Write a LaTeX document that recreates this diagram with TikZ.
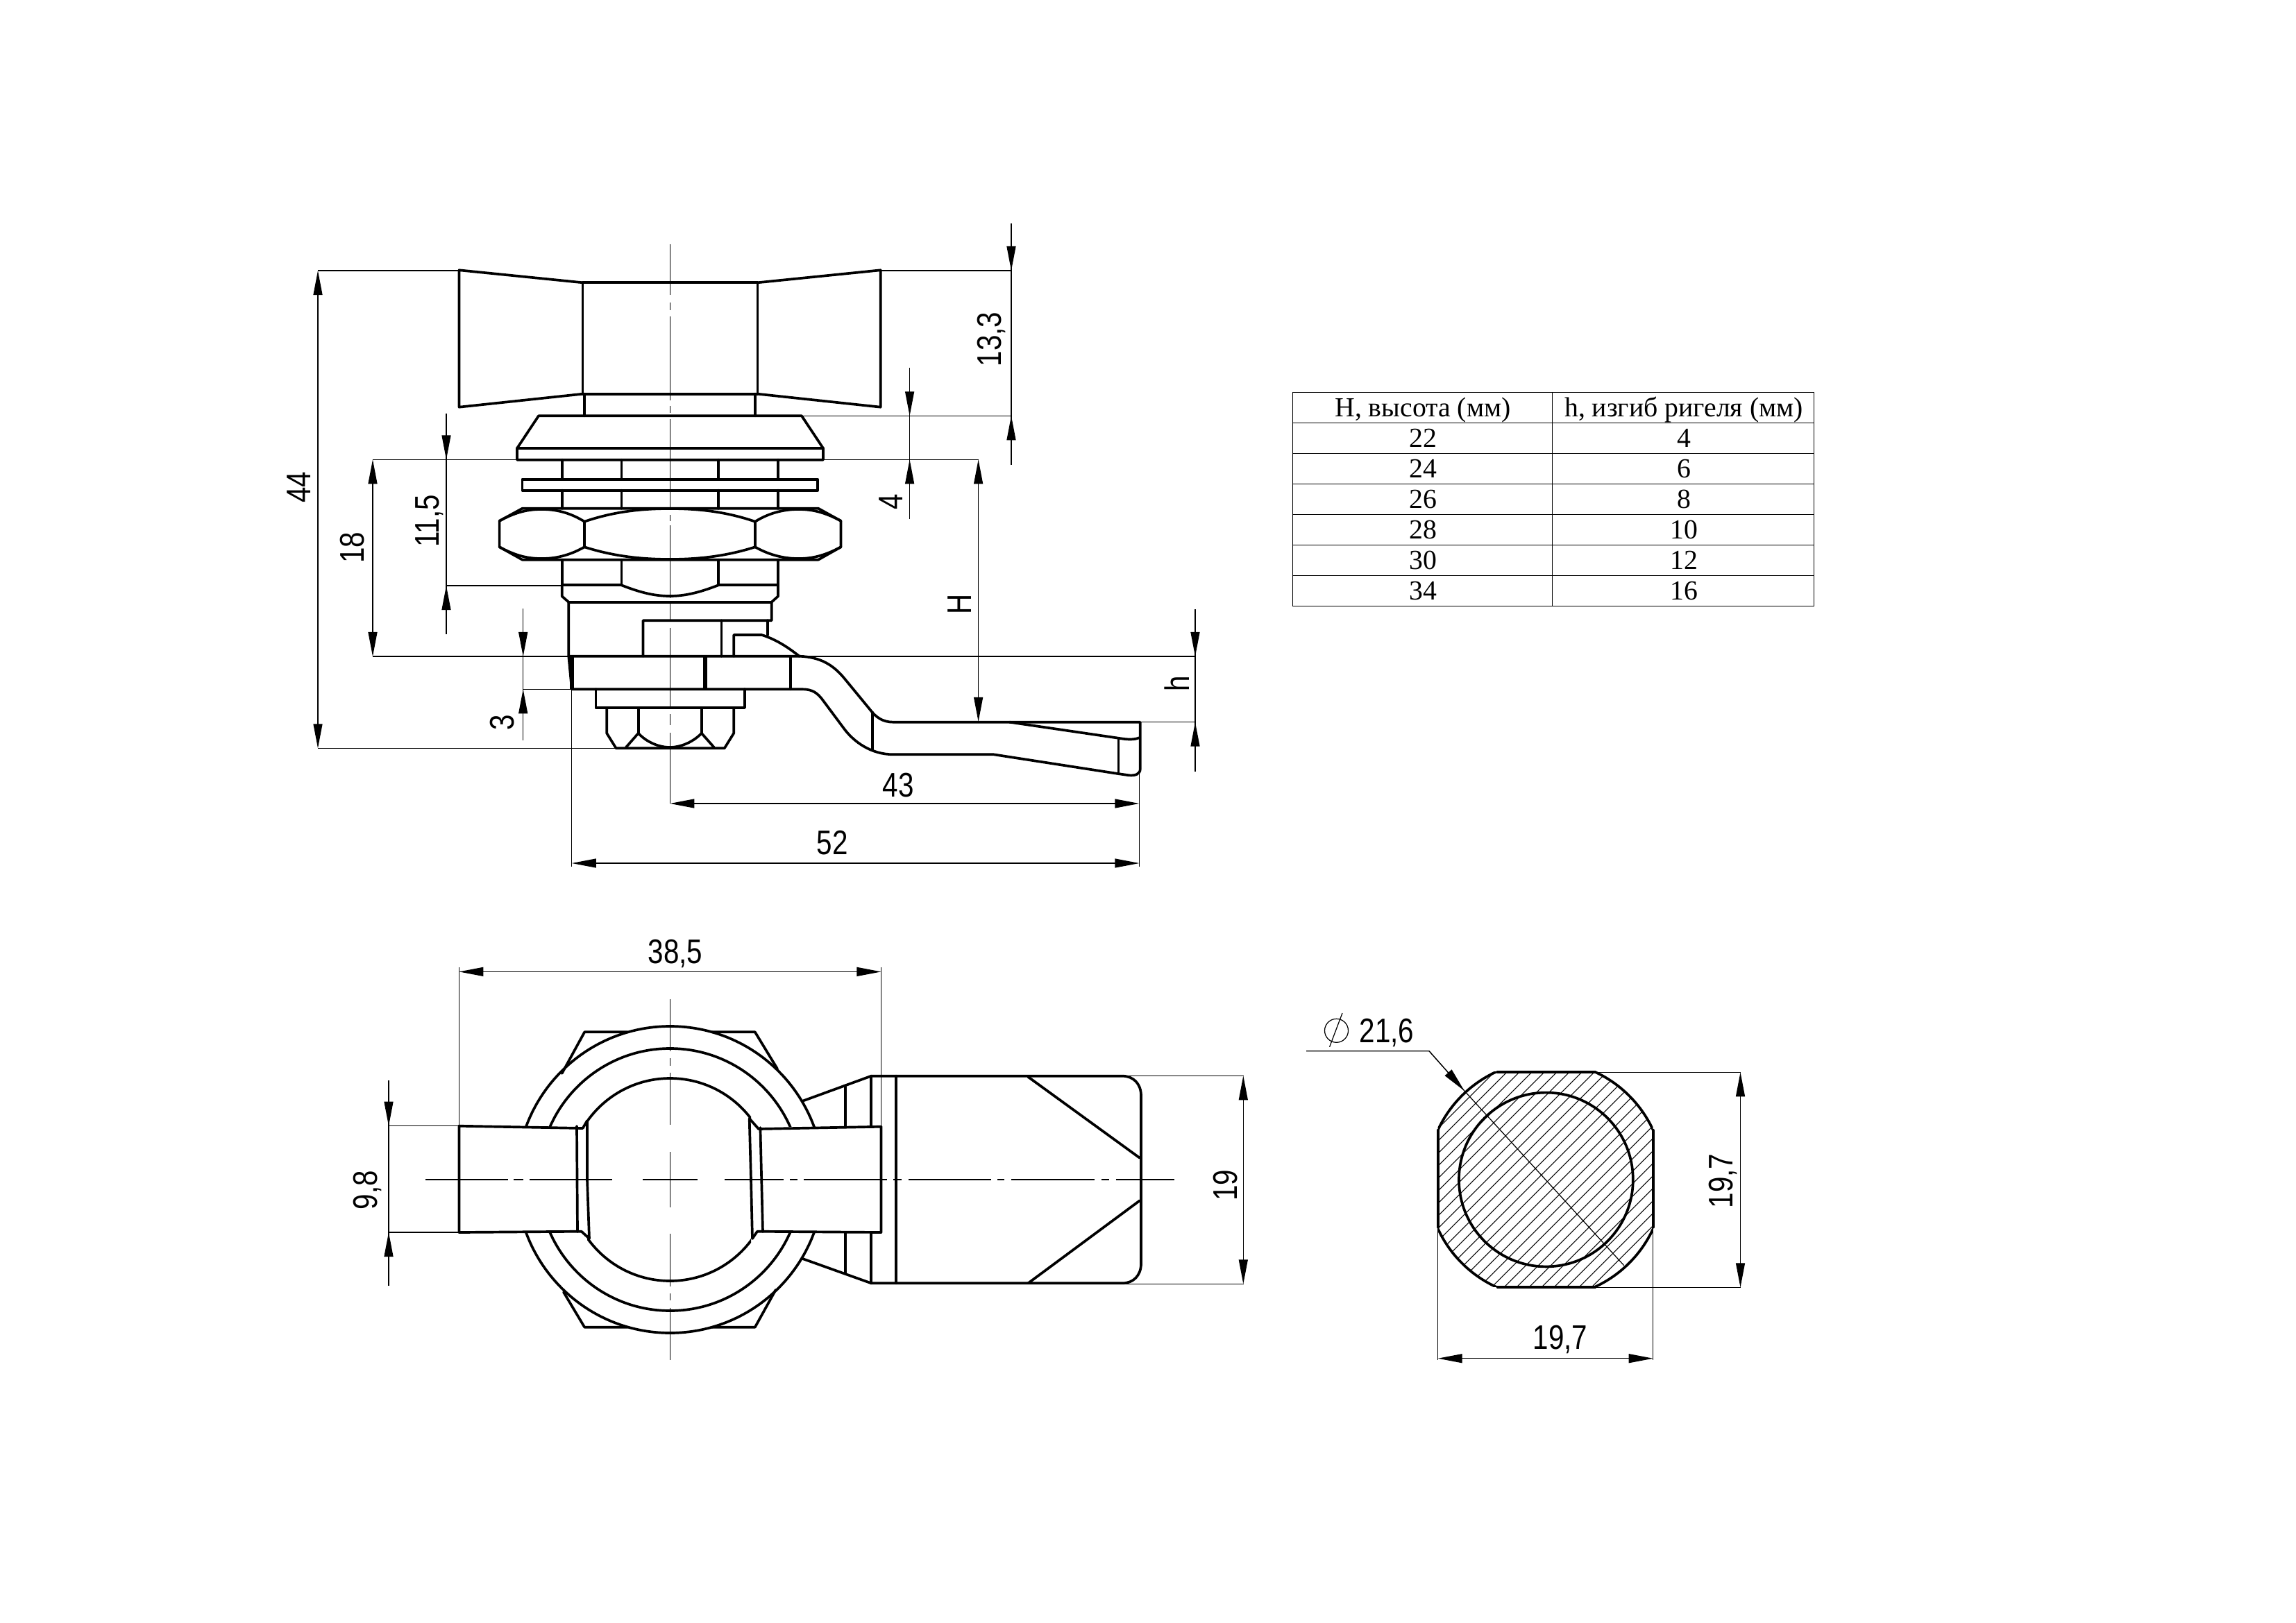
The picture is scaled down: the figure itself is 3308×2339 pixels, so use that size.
\documentclass[tikz,border=0pt]{standalone}
\usepackage{fontspec}
\usetikzlibrary{arrows.meta}
\setmainfont{Liberation Serif}
\newfontfamily\dimfont[FakeStretch=0.82]{Liberation Sans}
\tikzset{
  x=0.01cm,y=-0.01cm,
  heavy/.style={line width=1.05pt,line join=round,line cap=round,black},
  fine/.style={line width=0.35pt,black},
  tipped/.style={fine,-{Triangle[length=3.5mm,width=1.3mm]}},
  both tipped/.style={fine,{Triangle[length=3.5mm,width=1.3mm]}-{Triangle[length=3.5mm,width=1.3mm]}},
  dimtext/.style={font=\dimfont\fontsize{14}{14}\selectfont,inner sep=0pt},
  cell/.style={font=\fontsize{11.3}{12}\selectfont,inner sep=0pt,anchor=base},
}
\begin{document}
\begin{tikzpicture}
\useasboundingbox (0,0) rectangle (3308,2339);
% ---------- front view: handle
\draw[heavy] (839.6,407.3)--(661.5,389.3)--(661.5,586.7)--(839.6,567.7);
\draw[heavy] (1091.4,407.3)--(1268.7,389.3)--(1268.7,586.7)--(1091.4,567.7);
\draw[heavy] (839.6,407.3) rectangle (1091.4,567.7);
\draw[heavy] (842,567.7)--(842,599.3) (1088,567.7)--(1088,599.3);
% flange
\draw[heavy] (776,599.3)--(1155,599.3)--(1186,646)--(1186,662.7)--(745,662.7)--(745,646)--cycle;
\draw[heavy] (745,646)--(1186,646);
% thread
\foreach \xx in {809.7,895.4,1035,1121}{
  \draw[heavy] (\xx,662.7)--(\xx,690.7) (\xx,706.7)--(\xx,732.7) (\xx,806.7)--(\xx,843.3);
}
\draw[heavy] (752.6,690.7) rectangle (1178,706.7);
% nut
\draw[heavy] (719.6,750.7)--(752.6,732.7)--(1179,732.7)--(1211.5,750.7)--(1211.5,788.3)--(1179,806.7)--(752.6,806.7)--(719.6,788.3)--cycle;
\draw[heavy] (842,751.7)--(842,788.3) (1088,751.7)--(1088,788.3);
\draw[heavy] (719.6,750.7) .. controls (745,737) and (762,734) .. (781,734) .. controls (805,734) and (825,741) .. (842,751.7);
\draw[heavy] (719.6,788.3) .. controls (745,802) and (762,805) .. (781,805) .. controls (805,805) and (825,798) .. (842,788.3);
\draw[heavy] (1211.5,750.7) .. controls (1186,737) and (1168,734) .. (1150,734) .. controls (1126,734) and (1105,741) .. (1088,751.7);
\draw[heavy] (1211.5,788.3) .. controls (1186,802) and (1168,805) .. (1150,805) .. controls (1126,805) and (1105,798) .. (1088,788.3);
\draw[heavy] (842,751.7) .. controls (885,737) and (925,733) .. (965,733) .. controls (1005,733) and (1045,737) .. (1088,751.7);
\draw[heavy] (842,788.3) .. controls (885,802) and (925,806) .. (965,806) .. controls (1005,806) and (1045,802) .. (1088,788.3);
% lower body
\draw[heavy] (809.7,843.3)--(895.4,843.3) (1035,843.3)--(1121,843.3);
\draw[heavy] (895.4,843.3) .. controls (925,855) and (945,859) .. (965,859) .. controls (985,859) and (1005,855) .. (1035,843.3);
\draw[heavy] (809.7,843.3)--(809.7,859.3)--(819.3,867.7)--(819.3,945.7);
\draw[heavy] (1121,843.3)--(1121,859.3)--(1111.7,867.7)--(1111.7,894.3)--(926.4,894.3)--(926.4,945.7);
\draw[heavy] (819.3,867.7)--(1111.7,867.7);
\draw[heavy] (1039.4,894.3)--(1039.4,945.7) (1106.3,894.3)--(1106.3,915);
\draw[heavy] (1057.2,945.7)--(1057.2,915)--(1097.4,915) .. controls (1120,922) and (1138,935) .. (1152,946);
% bolt
\draw[heavy] (819.3,945.7)--(1152,945.7) .. controls (1182,947) and (1200,958) .. (1216,977)--(1253,1022) .. controls (1262,1034) and (1272,1040.7) .. (1287,1040.7)--(1642.8,1040.7)--(1642.8,1108) .. controls (1642.8,1116) and (1635,1118) .. (1626.7,1117.3)--(1610.6,1115)--(1431.6,1087.3)--(1287,1087.3) .. controls (1255,1087.3) and (1230,1069) .. (1216,1050)--(1184,1007) .. controls (1178,1000) and (1172,993.3) .. (1156,993.3)--(823.8,993.3)--cycle;
\draw[line width=1.6pt] (823.8,946)--(823.8,993.3) (1015.7,946)--(1015.7,993.3);
\draw[heavy] (1138.9,946)--(1138.9,993.3) (1257.2,1026.7)--(1257.2,1080);
\draw[heavy] (1454.5,1040.7)--(1615.3,1064.3) .. controls (1625,1066) and (1635,1066) .. (1641,1063.3);
\draw[heavy] (1611.6,1064.3)--(1611.6,1115);
% end nut
\draw[heavy] (858.6,993.3)--(858.6,1020)--(1072.9,1020)--(1072.9,993.3);
\draw[heavy] (874.2,1020)--(874.2,1056.7)--(887.6,1078.3)--(1043.8,1078.3)--(1057.2,1056.7)--(1057.2,1020);
\draw[heavy] (919.7,1020)--(919.7,1056.7) (1010.8,1020)--(1010.8,1056.7);
\draw[heavy] (901.9,1077)--(919.7,1056.7) .. controls (932,1070) and (950,1077) .. (965,1077) .. controls (980,1077) and (998,1070) .. (1010.8,1056.7)--(1028.7,1077);
% centre line, front view
\foreach \ya/\yb in {351.7/425,435.7/446.5,455.7/577,585/595,603.7/735,742/751,757/862,870/894,905/1018,1029/1045,1056/1158}{
  \draw[fine] (965.3,\ya)--(965.3,\yb);
}
% ---------- front view: dimensions
\coordinate (p44a) at (458,390); \coordinate (p44b) at (458,1078.3);
\draw[fine] (661.5,390)--(p44a) (888,1078.3)--(p44b);
\draw[both tipped] (p44a)--(p44b);
\node[dimtext,rotate=90] (t44) at (431,702) {44};
\coordinate (p18a) at (537,662.3); \coordinate (p18b) at (537,946);
\draw[fine] (745,662.3)--(p18a) (820,946)--(p18b);
\draw[both tipped] (p18a)--(p18b);
\node[dimtext,rotate=90] (t18) at (507.6,789) {18};
\draw[fine] (643,844)--(809.7,844) (643,596)--(643,914);
\draw[tipped] (643,596)--(643,662.3);
\draw[tipped] (643,914)--(643,844);
\node[dimtext,rotate=90] (t115) at (619,751) {11,5};
\draw[fine] (1269,390)--(1457,390) (1155,599.3)--(1457,599.3) (1186,662.3)--(1410,662.3);
\draw[fine] (1457,322)--(1457,670);
\draw[tipped] (1457,322)--(1457,390);
\draw[tipped] (1457,670)--(1457,599.3);
\node[dimtext,rotate=90] (t133) at (1428,489) {13,3};
\draw[fine] (1310.6,530)--(1310.6,748);
\draw[tipped] (1310.6,530)--(1310.6,599.3);
\draw[tipped] (1310.6,748)--(1310.6,662.3);
\node[dimtext,rotate=90] (t4) at (1284,723) {4};
\draw[both tipped] (1409.6,662.3)--(1409.6,1040);
\node[dimtext,rotate=90] (tH) at (1383,871) {H};
\draw[fine] (1152,946)--(1722,946) (1643,1040.7)--(1722,1040.7);
\draw[fine] (1722,878)--(1722,1112);
\draw[tipped] (1722,878)--(1722,946);
\draw[tipped] (1722,1112)--(1722,1040.7);
\node[dimtext,rotate=90] (th) at (1696,985) {h};
\draw[fine] (753.7,993.3)--(823.8,993.3) (753.7,946)--(819.3,946);
\draw[fine] (753.7,877)--(753.7,1067);
\draw[tipped] (753.7,877)--(753.7,946);
\draw[tipped] (753.7,1067)--(753.7,993.3);
\node[dimtext,rotate=90] (t3) at (724,1041) {3};
\draw[both tipped] (965.3,1158)--(1641.4,1158);
\node[dimtext] (t43) at (1294,1132) {43};
\draw[fine] (823.8,993.3)--(823.8,1249) (1641.4,1115)--(1641.4,1249);
\draw[both tipped] (823.8,1244)--(1641.4,1244);
\node[dimtext] (t52) at (1199,1215) {52};
% ---------- bottom view
\begin{scope}[yshift=-0.02cm]
\begin{scope}
  \clip (600,1400) rectangle (1300,1621);
  \draw[heavy] (965.4,1698) circle (221);
  \draw[heavy] (965.4,1698) circle (189);
\end{scope}
\begin{scope}
  \clip (600,1774) rectangle (1300,2000);
  \draw[heavy] (965.4,1698) circle (221);
  \draw[heavy] (965.4,1698) circle (189);
\end{scope}
\begin{scope}
  \clip (846,1400) rectangle (1082,2000);
  \draw[heavy] (965.4,1698) circle (146);
\end{scope}
% hex
\draw[heavy] (809.6,1545)--(842.2,1485.3)--(904,1485.3) (1026,1485.3)--(1087.8,1485.3)--(1120,1538.3);
\draw[heavy] (811.9,1860)--(842.2,1910.7)--(904,1910.7) (1026,1910.7)--(1087.8,1910.7)--(1117.7,1856.7);
% handle bars
\draw[heavy] (839.6,1624)--(661.4,1620.7)--(661.4,1774)--(837.8,1772.7);
\draw[heavy] (831,1621)--(832,1773);
\draw[heavy] (839.6,1624)--(846,1613)--(846,1698)--(849,1783)--(837.8,1772.7);
\draw[heavy] (1093,1625)--(1269.5,1621.7)--(1269.5,1774)--(1091,1772.7);
\draw[heavy] (1095.4,1623)--(1099,1773);
\draw[heavy] (1093,1625)--(1079.7,1610)--(1082,1698)--(1084,1783)--(1091,1772.7);
% latch, bottom view
\draw[heavy] (1155.6,1585)--(1255.2,1548.7)--(1617,1548.7) .. controls (1633,1548.7) and (1644,1560) .. (1644,1577)--(1644,1819) .. controls (1644,1836) and (1633,1847.3) .. (1617,1847.3)--(1255.2,1847.3)--(1155.6,1811.7);
\draw[heavy] (1218,1564)--(1218,1621) (1218,1774)--(1218,1833);
\draw[heavy] (1255.2,1548.7)--(1255.2,1621) (1255.2,1774)--(1255.2,1847.3);
\draw[heavy] (1291,1548.7)--(1291,1847.3);
\draw[heavy] (1481.3,1550)--(1642,1666.7) (1481.3,1847.3)--(1642,1728.3);
% centre lines, bottom view
\foreach \ya/\yb in {1437.6/1513,1523/1533.5,1543.7/1619,1658/1737.5,1776/1852,1862/1872,1882.5/1958}{
  \draw[fine] (965.3,\ya)--(965.3,\yb);
}
\foreach \xa/\xb in {613/732.4,740.4/753.8,762.8/882.4,926/1005,1044/1128.8,1137.8/1148.9,1157.9/1278.4,1287.3/1298.5,1308.8/1427.7,1437/1447,1457/1577,1586.5/1598,1607.6/1691.8}{
  \draw[fine] (\xa,1698)--(\xb,1698);
}
% bottom view dimensions
\draw[fine] (661.4,1392)--(661.4,1621) (1269.5,1392)--(1269.5,1621);
\draw[both tipped] (661.4,1398.4)--(1269.5,1398.4);
\node[dimtext] (t385) at (973,1372) {38,5};
\draw[fine] (560,1620.7)--(661.4,1620.7) (560,1774)--(661.4,1774);
\draw[fine] (560,1555)--(560,1851);
\draw[tipped] (560,1555)--(560,1620.7);
\draw[tipped] (560,1851)--(560,1774);
\node[dimtext,rotate=90] (t98) at (529,1713) {9,8};
\draw[fine] (1617,1548.3)--(1792,1548.3) (1617,1848.3)--(1792,1848.3);
\draw[both tipped] (1791.3,1548.3)--(1791.3,1848.3);
\node[dimtext,rotate=90] (t19) at (1766,1706) {19};
% ---------- section
\begin{scope}
  \clip (2071.7,1542.7) rectangle (2381.7,1852.7);
  \clip (2226.7,1697.7) circle (170.5);
  \foreach \k in {0,...,52}{
    \draw[line width=0.3pt] (1760+\k*18,1900)--(2160+\k*18,1500);
  }
\end{scope}
\begin{scope}
  \clip (2071.7,1542.7) rectangle (2381.7,1852.7);
  \draw[heavy] (2226.7,1697.7) circle (170.5);
\end{scope}
\draw[heavy] (2157.5,1542.7)--(2298.5,1542.7) (2381.7,1626.7)--(2381.7,1766.7) (2157.5,1852.7)--(2298.5,1852.7) (2071.7,1626.7)--(2071.7,1766.7);
\draw[heavy] (2227.4,1698) circle (125.4);
\draw[fine] (1882,1512.7)--(2059,1512.7)--(2109.8,1570)--(2339.7,1821.7);
\draw[tipped] (2059,1512.7)--(2109.8,1570);
\draw[fine] (1925.5,1483.3) circle (17);
\draw[fine] (1934,1458)--(1915.6,1506.7);
\node[dimtext,anchor=west] (t216) at (1958,1486) {21,6};
\draw[fine] (2298.5,1543.3)--(2507.5,1543.3) (2298.5,1853.3)--(2507.5,1853.3);
\draw[both tipped] (2507.5,1543.3)--(2507.5,1853.3);
\node[dimtext,rotate=90] (t197a) at (2482,1700) {19,7};
\draw[fine] (2071.7,1766.7)--(2071.7,1958) (2381.7,1766.7)--(2381.7,1958);
\draw[both tipped] (2071.7,1955.7)--(2381.7,1955.7);
\node[dimtext] (t197b) at (2248,1928) {19,7};
\end{scope}
% ---------- table
\draw[fine] (1862.5,565.3) rectangle (2613.7,873.3);
\draw[fine] (2236.8,565.3)--(2236.8,873.3);
\foreach \yy in {609.3,653.3,697.3,741.3,785.3,829.3}{
  \draw[fine] (1862.5,\yy)--(2613.7,\yy);
}
\node[cell] (h1) at (2050,600) {H, высота (мм)};
\node[cell] (h2) at (2426,600) {h, изгиб ригеля (мм)};
\foreach \nm/\yy/\va/\vb in {r1/644/22/4,r2/688/24/6,r3/732/26/8,r4/776/28/10,r5/820/30/12,r6/864/34/16}{
  \node[cell] (\nm a) at (2050,\yy) {\va};
  \node[cell] (\nm b) at (2426,\yy) {\vb};
}
\end{tikzpicture}
\end{document}
